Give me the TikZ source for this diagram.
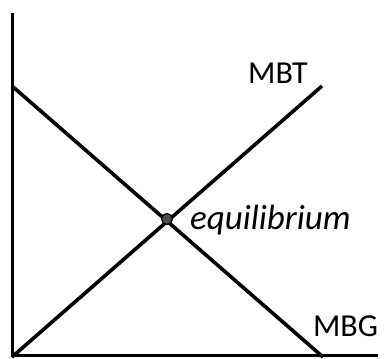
\documentclass[tikz,border=0pt]{standalone}
\usepackage{fontspec}
\setmainfont{Carlito}
\usetikzlibrary{positioning}
\begin{document}
\begin{tikzpicture}[x=1pt,y=1pt,
    axis/.style={line width=3pt},
    curve/.style={line width=3.6pt},
    lbl/.style={anchor=base,inner sep=0pt,font=\fontsize{32}{32}\selectfont}]
    \useasboundingbox (0,0) rectangle (384,359);
    % Оси
    \coordinate (o) at (12,3);
    \coordinate (ytop) at (12,346);
    \coordinate (xend) at (378,3);
    \draw[axis] (ytop) -- (o) -- (xend);

    % Кривые
    \coordinate (g0) at (12,273);
    \coordinate (g1) at (323,2);
    \coordinate (t0) at (12,2);
    \coordinate (t1) at (322,273);
    \draw[curve] (g0) -- (g1);
    \draw[curve] (t0) -- (t1);

    % Равновесие
    \node[circle,fill=black!70,draw=black,line width=1.2pt,inner sep=0pt,minimum size=11pt] (eq) at (167,140) {};
    \node[lbl,anchor=base west,font=\fontsize{35}{35}\selectfont\itshape] (eqlbl) at (190,129) {equilibrium};

    % Подписи
    \node[lbl] (mbt) at (278,275) {MBT};
    \node[lbl] (mbg) at (345.5,22) {MBG};
\end{tikzpicture}
\end{document}
